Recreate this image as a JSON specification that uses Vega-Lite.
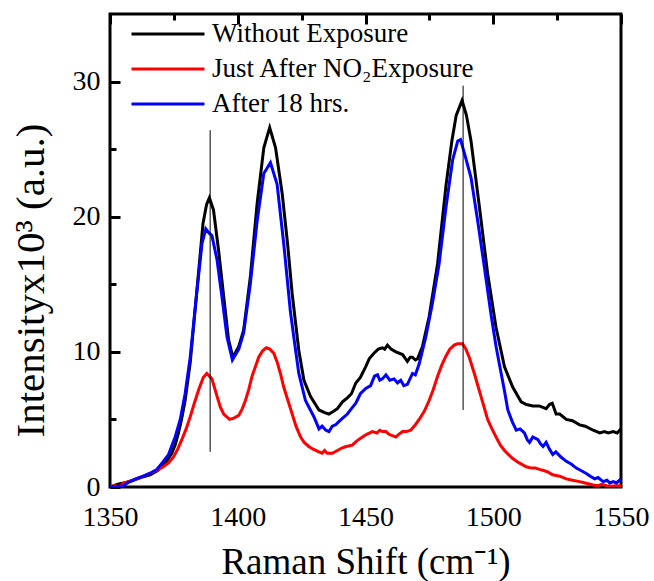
{
 "$schema": "https://vega.github.io/schema/vega-lite/v6.json",
 "width": 511,
 "height": 473,
 "autosize": {"type": "none"},
 "padding": {"left": 110, "top": 14, "right": 33, "bottom": 94},
 "background": "white",
 "config": {
  "view": {"stroke": "black", "strokeWidth": 3},
  "font": "Liberation Serif",
  "axis": {"domain": false, "ticks": false, "labelColor": "black", "labelFont": "Liberation Serif", "titleFont": "Liberation Serif", "titleColor": "black", "titleFontWeight": "normal", "labelFlush": false, "labelOverlap": false, "gridColor": "#000000", "gridOpacity": 1, "gridWidth": 3}
 },
 "datasets": {
  "spectra": [
   {"series":"Without Exposure","shift":1350,"intensity":0.0},
   {"series":"Without Exposure","shift":1353,"intensity":0.2},
   {"series":"Without Exposure","shift":1357.8,"intensity":0.4},
   {"series":"Without Exposure","shift":1362,"intensity":0.7},
   {"series":"Without Exposure","shift":1365.7,"intensity":0.9},
   {"series":"Without Exposure","shift":1368.5,"intensity":1.2},
   {"series":"Without Exposure","shift":1370.9,"intensity":1.6},
   {"series":"Without Exposure","shift":1372.5,"intensity":2.0},
   {"series":"Without Exposure","shift":1374.2,"intensity":2.5},
   {"series":"Without Exposure","shift":1375.5,"intensity":3.1},
   {"series":"Without Exposure","shift":1376.8,"intensity":4.0},
   {"series":"Without Exposure","shift":1378,"intensity":5.0},
   {"series":"Without Exposure","shift":1379.4,"intensity":6.4},
   {"series":"Without Exposure","shift":1381.4,"intensity":9.2},
   {"series":"Without Exposure","shift":1383.8,"intensity":14.1},
   {"series":"Without Exposure","shift":1386.4,"intensity":19.5},
   {"series":"Without Exposure","shift":1387.8,"intensity":20.9},
   {"series":"Without Exposure","shift":1388.9,"intensity":21.4},
   {"series":"Without Exposure","shift":1390.5,"intensity":20.5},
   {"series":"Without Exposure","shift":1392.5,"intensity":17.5},
   {"series":"Without Exposure","shift":1394.5,"intensity":14.1},
   {"series":"Without Exposure","shift":1396.4,"intensity":10.9},
   {"series":"Without Exposure","shift":1398.1,"intensity":9.6},
   {"series":"Without Exposure","shift":1400.4,"intensity":10.4},
   {"series":"Without Exposure","shift":1402.3,"intensity":11.6},
   {"series":"Without Exposure","shift":1404.9,"intensity":15.5},
   {"series":"Without Exposure","shift":1407.6,"intensity":21.0},
   {"series":"Without Exposure","shift":1410.2,"intensity":25.1},
   {"series":"Without Exposure","shift":1412.5,"intensity":26.6},
   {"series":"Without Exposure","shift":1414.8,"intensity":25.1},
   {"series":"Without Exposure","shift":1417.4,"intensity":21.7},
   {"series":"Without Exposure","shift":1419.5,"intensity":18.0},
   {"series":"Without Exposure","shift":1421.3,"intensity":14.3},
   {"series":"Without Exposure","shift":1423.9,"intensity":10.1},
   {"series":"Without Exposure","shift":1425.9,"intensity":7.9},
   {"series":"Without Exposure","shift":1428.5,"intensity":6.7},
   {"series":"Without Exposure","shift":1431.8,"intensity":5.7},
   {"series":"Without Exposure","shift":1434,"intensity":5.5},
   {"series":"Without Exposure","shift":1435.7,"intensity":5.4},
   {"series":"Without Exposure","shift":1437.5,"intensity":5.6},
   {"series":"Without Exposure","shift":1439,"intensity":5.8},
   {"series":"Without Exposure","shift":1441,"intensity":6.3},
   {"series":"Without Exposure","shift":1442.9,"intensity":6.6},
   {"series":"Without Exposure","shift":1444.5,"intensity":6.9},
   {"series":"Without Exposure","shift":1446.2,"intensity":7.7},
   {"series":"Without Exposure","shift":1448,"intensity":8.1},
   {"series":"Without Exposure","shift":1450.1,"intensity":8.9},
   {"series":"Without Exposure","shift":1451.5,"intensity":9.5},
   {"series":"Without Exposure","shift":1453.3,"intensity":9.9},
   {"series":"Without Exposure","shift":1455,"intensity":10.2},
   {"series":"Without Exposure","shift":1456.6,"intensity":10.3},
   {"series":"Without Exposure","shift":1457.5,"intensity":10.2},
   {"series":"Without Exposure","shift":1458.6,"intensity":10.5},
   {"series":"Without Exposure","shift":1460,"intensity":10.2},
   {"series":"Without Exposure","shift":1461.9,"intensity":10.0},
   {"series":"Without Exposure","shift":1464.5,"intensity":9.8},
   {"series":"Without Exposure","shift":1466.4,"intensity":9.3},
   {"series":"Without Exposure","shift":1467.5,"intensity":9.6},
   {"series":"Without Exposure","shift":1468.4,"intensity":9.6},
   {"series":"Without Exposure","shift":1469.5,"intensity":9.4},
   {"series":"Without Exposure","shift":1470.4,"intensity":9.5},
   {"series":"Without Exposure","shift":1472.3,"intensity":10.4},
   {"series":"Without Exposure","shift":1474.9,"intensity":12.6},
   {"series":"Without Exposure","shift":1478.2,"intensity":16.5},
   {"series":"Without Exposure","shift":1481.5,"intensity":22.3},
   {"series":"Without Exposure","shift":1483.8,"intensity":25.6},
   {"series":"Without Exposure","shift":1485.5,"intensity":27.5},
   {"series":"Without Exposure","shift":1487.8,"intensity":28.6},
   {"series":"Without Exposure","shift":1489.5,"intensity":27.5},
   {"series":"Without Exposure","shift":1491.3,"intensity":25.6},
   {"series":"Without Exposure","shift":1494.6,"intensity":20.7},
   {"series":"Without Exposure","shift":1497.8,"intensity":15.8},
   {"series":"Without Exposure","shift":1501.1,"intensity":11.8},
   {"series":"Without Exposure","shift":1504.4,"intensity":8.9},
   {"series":"Without Exposure","shift":1507.6,"intensity":7.4},
   {"series":"Without Exposure","shift":1510.9,"intensity":6.3},
   {"series":"Without Exposure","shift":1513,"intensity":6.1},
   {"series":"Without Exposure","shift":1515.5,"intensity":6.0},
   {"series":"Without Exposure","shift":1518,"intensity":6.0},
   {"series":"Without Exposure","shift":1520.7,"intensity":5.8},
   {"series":"Without Exposure","shift":1522,"intensity":6.1},
   {"series":"Without Exposure","shift":1523.1,"intensity":6.2},
   {"series":"Without Exposure","shift":1524.6,"intensity":5.4},
   {"series":"Without Exposure","shift":1526,"intensity":5.4},
   {"series":"Without Exposure","shift":1528.6,"intensity":5.0},
   {"series":"Without Exposure","shift":1531,"intensity":4.9},
   {"series":"Without Exposure","shift":1533.8,"intensity":4.6},
   {"series":"Without Exposure","shift":1536,"intensity":4.5},
   {"series":"Without Exposure","shift":1539.1,"intensity":4.2},
   {"series":"Without Exposure","shift":1541.7,"intensity":4.0},
   {"series":"Without Exposure","shift":1543.5,"intensity":4.1},
   {"series":"Without Exposure","shift":1545,"intensity":4.0},
   {"series":"Without Exposure","shift":1546.9,"intensity":4.1},
   {"series":"Without Exposure","shift":1548.5,"intensity":4.0},
   {"series":"Without Exposure","shift":1550,"intensity":4.3},

   {"series":"Just After NO₂Exposure","shift":1350,"intensity":0.0},
   {"series":"Just After NO₂Exposure","shift":1352,"intensity":0.1},
   {"series":"Just After NO₂Exposure","shift":1353.5,"intensity":0.0},
   {"series":"Just After NO₂Exposure","shift":1355.2,"intensity":0.27},
   {"series":"Just After NO₂Exposure","shift":1357,"intensity":0.4},
   {"series":"Just After NO₂Exposure","shift":1360.5,"intensity":0.6},
   {"series":"Just After NO₂Exposure","shift":1363,"intensity":0.8},
   {"series":"Just After NO₂Exposure","shift":1365.7,"intensity":1.0},
   {"series":"Just After NO₂Exposure","shift":1368,"intensity":1.2},
   {"series":"Just After NO₂Exposure","shift":1370.9,"intensity":1.5},
   {"series":"Just After NO₂Exposure","shift":1373,"intensity":1.8},
   {"series":"Just After NO₂Exposure","shift":1374.8,"intensity":2.2},
   {"series":"Just After NO₂Exposure","shift":1376.5,"intensity":2.8},
   {"series":"Just After NO₂Exposure","shift":1378.1,"intensity":3.5},
   {"series":"Just After NO₂Exposure","shift":1379.8,"intensity":4.3},
   {"series":"Just After NO₂Exposure","shift":1381.4,"intensity":5.2},
   {"series":"Just After NO₂Exposure","shift":1383,"intensity":6.2},
   {"series":"Just After NO₂Exposure","shift":1384.7,"intensity":7.2},
   {"series":"Just After NO₂Exposure","shift":1386.5,"intensity":8.1},
   {"series":"Just After NO₂Exposure","shift":1387.9,"intensity":8.4},
   {"series":"Just After NO₂Exposure","shift":1389.9,"intensity":8.0},
   {"series":"Just After NO₂Exposure","shift":1391.9,"intensity":6.7},
   {"series":"Just After NO₂Exposure","shift":1393.2,"intensity":5.9},
   {"series":"Just After NO₂Exposure","shift":1394.5,"intensity":5.4},
   {"series":"Just After NO₂Exposure","shift":1396.8,"intensity":5.0},
   {"series":"Just After NO₂Exposure","shift":1398.5,"intensity":5.1},
   {"series":"Just After NO₂Exposure","shift":1400.4,"intensity":5.3},
   {"series":"Just After NO₂Exposure","shift":1401.8,"intensity":5.8},
   {"series":"Just After NO₂Exposure","shift":1403,"intensity":6.4},
   {"series":"Just After NO₂Exposure","shift":1404.3,"intensity":7.2},
   {"series":"Just After NO₂Exposure","shift":1405.6,"intensity":8.2},
   {"series":"Just After NO₂Exposure","shift":1406.9,"intensity":8.9},
   {"series":"Just After NO₂Exposure","shift":1408.2,"intensity":9.6},
   {"series":"Just After NO₂Exposure","shift":1409.8,"intensity":10.1},
   {"series":"Just After NO₂Exposure","shift":1411.2,"intensity":10.3},
   {"series":"Just After NO₂Exposure","shift":1412.6,"intensity":10.2},
   {"series":"Just After NO₂Exposure","shift":1414.1,"intensity":9.9},
   {"series":"Just After NO₂Exposure","shift":1415.5,"intensity":9.2},
   {"series":"Just After NO₂Exposure","shift":1416.7,"intensity":8.4},
   {"series":"Just After NO₂Exposure","shift":1418,"intensity":7.4},
   {"series":"Just After NO₂Exposure","shift":1419.3,"intensity":6.6},
   {"series":"Just After NO₂Exposure","shift":1421.3,"intensity":5.4},
   {"series":"Just After NO₂Exposure","shift":1422.8,"intensity":4.5},
   {"series":"Just After NO₂Exposure","shift":1424.6,"intensity":3.7},
   {"series":"Just After NO₂Exposure","shift":1426,"intensity":3.3},
   {"series":"Just After NO₂Exposure","shift":1427.8,"intensity":3.0},
   {"series":"Just After NO₂Exposure","shift":1429.5,"intensity":2.8},
   {"series":"Just After NO₂Exposure","shift":1431.8,"intensity":2.6},
   {"series":"Just After NO₂Exposure","shift":1433,"intensity":2.5},
   {"series":"Just After NO₂Exposure","shift":1434,"intensity":2.7},
   {"series":"Just After NO₂Exposure","shift":1435,"intensity":2.5},
   {"series":"Just After NO₂Exposure","shift":1437,"intensity":2.5},
   {"series":"Just After NO₂Exposure","shift":1439,"intensity":2.7},
   {"series":"Just After NO₂Exposure","shift":1440.9,"intensity":2.9},
   {"series":"Just After NO₂Exposure","shift":1442.5,"intensity":3.0},
   {"series":"Just After NO₂Exposure","shift":1444.8,"intensity":3.1},
   {"series":"Just After NO₂Exposure","shift":1446.5,"intensity":3.4},
   {"series":"Just After NO₂Exposure","shift":1448.8,"intensity":3.7},
   {"series":"Just After NO₂Exposure","shift":1450.5,"intensity":3.9},
   {"series":"Just After NO₂Exposure","shift":1452.7,"intensity":4.1},
   {"series":"Just After NO₂Exposure","shift":1454.5,"intensity":4.0},
   {"series":"Just After NO₂Exposure","shift":1455.6,"intensity":4.2},
   {"series":"Just After NO₂Exposure","shift":1456.6,"intensity":4.1},
   {"series":"Just After NO₂Exposure","shift":1458,"intensity":4.1},
   {"series":"Just After NO₂Exposure","shift":1459.2,"intensity":3.9},
   {"series":"Just After NO₂Exposure","shift":1460.5,"intensity":3.8},
   {"series":"Just After NO₂Exposure","shift":1461.9,"intensity":3.7},
   {"series":"Just After NO₂Exposure","shift":1463,"intensity":3.9},
   {"series":"Just After NO₂Exposure","shift":1464.5,"intensity":4.1},
   {"series":"Just After NO₂Exposure","shift":1466,"intensity":4.1},
   {"series":"Just After NO₂Exposure","shift":1467.7,"intensity":4.2},
   {"series":"Just After NO₂Exposure","shift":1469.5,"intensity":4.6},
   {"series":"Just After NO₂Exposure","shift":1471,"intensity":5.0},
   {"series":"Just After NO₂Exposure","shift":1473,"intensity":5.6},
   {"series":"Just After NO₂Exposure","shift":1474.9,"intensity":6.4},
   {"series":"Just After NO₂Exposure","shift":1476.5,"intensity":7.2},
   {"series":"Just After NO₂Exposure","shift":1478.2,"intensity":8.2},
   {"series":"Just After NO₂Exposure","shift":1479.8,"intensity":9.0},
   {"series":"Just After NO₂Exposure","shift":1481.5,"intensity":9.7},
   {"series":"Just After NO₂Exposure","shift":1483,"intensity":10.2},
   {"series":"Just After NO₂Exposure","shift":1484.7,"intensity":10.5},
   {"series":"Just After NO₂Exposure","shift":1486,"intensity":10.6},
   {"series":"Just After NO₂Exposure","shift":1488,"intensity":10.6},
   {"series":"Just After NO₂Exposure","shift":1489.3,"intensity":10.2},
   {"series":"Just After NO₂Exposure","shift":1490.6,"intensity":9.6},
   {"series":"Just After NO₂Exposure","shift":1492.6,"intensity":8.4},
   {"series":"Just After NO₂Exposure","shift":1495.2,"intensity":6.7},
   {"series":"Just After NO₂Exposure","shift":1497.8,"intensity":5.0},
   {"series":"Just After NO₂Exposure","shift":1499.5,"intensity":4.3},
   {"series":"Just After NO₂Exposure","shift":1501.1,"intensity":3.7},
   {"series":"Just After NO₂Exposure","shift":1502.8,"intensity":3.1},
   {"series":"Just After NO₂Exposure","shift":1504.4,"intensity":2.7},
   {"series":"Just After NO₂Exposure","shift":1506,"intensity":2.4},
   {"series":"Just After NO₂Exposure","shift":1507.6,"intensity":2.1},
   {"series":"Just After NO₂Exposure","shift":1510,"intensity":1.8},
   {"series":"Just After NO₂Exposure","shift":1512.9,"intensity":1.5},
   {"series":"Just After NO₂Exposure","shift":1515,"intensity":1.4},
   {"series":"Just After NO₂Exposure","shift":1516.5,"intensity":1.4},
   {"series":"Just After NO₂Exposure","shift":1518.1,"intensity":1.3},
   {"series":"Just After NO₂Exposure","shift":1520,"intensity":1.2},
   {"series":"Just After NO₂Exposure","shift":1521.5,"intensity":1.1},
   {"series":"Just After NO₂Exposure","shift":1523.3,"intensity":0.9},
   {"series":"Just After NO₂Exposure","shift":1526,"intensity":0.8},
   {"series":"Just After NO₂Exposure","shift":1528.6,"intensity":0.6},
   {"series":"Just After NO₂Exposure","shift":1531,"intensity":0.5},
   {"series":"Just After NO₂Exposure","shift":1533.8,"intensity":0.4},
   {"series":"Just After NO₂Exposure","shift":1536,"intensity":0.3},
   {"series":"Just After NO₂Exposure","shift":1539.1,"intensity":0.15},
   {"series":"Just After NO₂Exposure","shift":1541,"intensity":0.1},
   {"series":"Just After NO₂Exposure","shift":1542.5,"intensity":0.2},
   {"series":"Just After NO₂Exposure","shift":1544.4,"intensity":0.1},
   {"series":"Just After NO₂Exposure","shift":1546,"intensity":0.05},
   {"series":"Just After NO₂Exposure","shift":1548,"intensity":0.1},
   {"series":"Just After NO₂Exposure","shift":1550,"intensity":0.1},

   {"series":"After 18 hrs.","shift":1350,"intensity":0.05},
   {"series":"After 18 hrs.","shift":1352,"intensity":0.0},
   {"series":"After 18 hrs.","shift":1355.2,"intensity":0.1},
   {"series":"After 18 hrs.","shift":1357.8,"intensity":0.4},
   {"series":"After 18 hrs.","shift":1360,"intensity":0.6},
   {"series":"After 18 hrs.","shift":1363.1,"intensity":0.8},
   {"series":"After 18 hrs.","shift":1365.5,"intensity":1.0},
   {"series":"After 18 hrs.","shift":1368.3,"intensity":1.3},
   {"series":"After 18 hrs.","shift":1370.5,"intensity":1.8},
   {"series":"After 18 hrs.","shift":1372.9,"intensity":2.4},
   {"series":"After 18 hrs.","shift":1375.5,"intensity":3.7},
   {"series":"After 18 hrs.","shift":1377.5,"intensity":5.0},
   {"series":"After 18 hrs.","shift":1379.4,"intensity":6.9},
   {"series":"After 18 hrs.","shift":1381.4,"intensity":9.6},
   {"series":"After 18 hrs.","shift":1383.8,"intensity":14.1},
   {"series":"After 18 hrs.","shift":1386,"intensity":18.0},
   {"series":"After 18 hrs.","shift":1387.5,"intensity":19.1},
   {"series":"After 18 hrs.","shift":1388.7,"intensity":18.8},
   {"series":"After 18 hrs.","shift":1389.9,"intensity":18.6},
   {"series":"After 18 hrs.","shift":1391.9,"intensity":16.8},
   {"series":"After 18 hrs.","shift":1393.8,"intensity":14.1},
   {"series":"After 18 hrs.","shift":1395.8,"intensity":11.1},
   {"series":"After 18 hrs.","shift":1397.9,"intensity":9.4},
   {"series":"After 18 hrs.","shift":1400.4,"intensity":10.2},
   {"series":"After 18 hrs.","shift":1402.3,"intensity":11.4},
   {"series":"After 18 hrs.","shift":1404.9,"intensity":15.0},
   {"series":"After 18 hrs.","shift":1407.6,"intensity":19.7},
   {"series":"After 18 hrs.","shift":1410.2,"intensity":23.2},
   {"series":"After 18 hrs.","shift":1412.8,"intensity":24.0},
   {"series":"After 18 hrs.","shift":1415.4,"intensity":22.4},
   {"series":"After 18 hrs.","shift":1418,"intensity":18.0},
   {"series":"After 18 hrs.","shift":1420.6,"intensity":13.0},
   {"series":"After 18 hrs.","shift":1422,"intensity":11.0},
   {"series":"After 18 hrs.","shift":1423.9,"intensity":8.4},
   {"series":"After 18 hrs.","shift":1426.5,"intensity":6.4},
   {"series":"After 18 hrs.","shift":1429.8,"intensity":5.2},
   {"series":"After 18 hrs.","shift":1431.8,"intensity":4.3},
   {"series":"After 18 hrs.","shift":1433,"intensity":4.5},
   {"series":"After 18 hrs.","shift":1434.5,"intensity":4.2},
   {"series":"After 18 hrs.","shift":1435.7,"intensity":4.1},
   {"series":"After 18 hrs.","shift":1437,"intensity":4.5},
   {"series":"After 18 hrs.","shift":1438.3,"intensity":4.6},
   {"series":"After 18 hrs.","shift":1440.5,"intensity":5.0},
   {"series":"After 18 hrs.","shift":1442.9,"intensity":5.4},
   {"series":"After 18 hrs.","shift":1444.5,"intensity":5.8},
   {"series":"After 18 hrs.","shift":1446.2,"intensity":6.2},
   {"series":"After 18 hrs.","shift":1448,"intensity":6.9},
   {"series":"After 18 hrs.","shift":1450.1,"intensity":7.3},
   {"series":"After 18 hrs.","shift":1452,"intensity":7.5},
   {"series":"After 18 hrs.","shift":1453.5,"intensity":8.2},
   {"series":"After 18 hrs.","shift":1454.7,"intensity":8.3},
   {"series":"After 18 hrs.","shift":1455.6,"intensity":7.9},
   {"series":"After 18 hrs.","shift":1456.6,"intensity":8.0},
   {"series":"After 18 hrs.","shift":1458,"intensity":8.3},
   {"series":"After 18 hrs.","shift":1459.5,"intensity":7.9},
   {"series":"After 18 hrs.","shift":1461.2,"intensity":8.0},
   {"series":"After 18 hrs.","shift":1462.5,"intensity":7.7},
   {"series":"After 18 hrs.","shift":1463.8,"intensity":7.9},
   {"series":"After 18 hrs.","shift":1465,"intensity":7.5},
   {"series":"After 18 hrs.","shift":1466.4,"intensity":7.6},
   {"series":"After 18 hrs.","shift":1468.4,"intensity":8.4},
   {"series":"After 18 hrs.","shift":1469.5,"intensity":8.3},
   {"series":"After 18 hrs.","shift":1471,"intensity":9.1},
   {"series":"After 18 hrs.","shift":1473.6,"intensity":11.1},
   {"series":"After 18 hrs.","shift":1476.2,"intensity":13.6},
   {"series":"After 18 hrs.","shift":1478.8,"intensity":16.5},
   {"series":"After 18 hrs.","shift":1481.5,"intensity":20.7},
   {"series":"After 18 hrs.","shift":1484.1,"intensity":24.2},
   {"series":"After 18 hrs.","shift":1486.1,"intensity":25.6},
   {"series":"After 18 hrs.","shift":1487.2,"intensity":25.7},
   {"series":"After 18 hrs.","shift":1488.7,"intensity":24.7},
   {"series":"After 18 hrs.","shift":1491.3,"intensity":22.9},
   {"series":"After 18 hrs.","shift":1493.9,"intensity":19.7},
   {"series":"After 18 hrs.","shift":1496.5,"intensity":16.3},
   {"series":"After 18 hrs.","shift":1499.1,"intensity":12.8},
   {"series":"After 18 hrs.","shift":1501.1,"intensity":10.4},
   {"series":"After 18 hrs.","shift":1503.1,"intensity":8.4},
   {"series":"After 18 hrs.","shift":1504.5,"intensity":7.0},
   {"series":"After 18 hrs.","shift":1505.7,"intensity":5.7},
   {"series":"After 18 hrs.","shift":1507.5,"intensity":4.8},
   {"series":"After 18 hrs.","shift":1509,"intensity":4.2},
   {"series":"After 18 hrs.","shift":1510.5,"intensity":4.3},
   {"series":"After 18 hrs.","shift":1512.2,"intensity":4.0},
   {"series":"After 18 hrs.","shift":1513.3,"intensity":3.5},
   {"series":"After 18 hrs.","shift":1514.2,"intensity":3.3},
   {"series":"After 18 hrs.","shift":1515.5,"intensity":3.7},
   {"series":"After 18 hrs.","shift":1517.5,"intensity":3.5},
   {"series":"After 18 hrs.","shift":1518.5,"intensity":3.2},
   {"series":"After 18 hrs.","shift":1519.5,"intensity":3.0},
   {"series":"After 18 hrs.","shift":1520.7,"intensity":3.3},
   {"series":"After 18 hrs.","shift":1522,"intensity":2.8},
   {"series":"After 18 hrs.","shift":1523.3,"intensity":2.4},
   {"series":"After 18 hrs.","shift":1524.5,"intensity":2.6},
   {"series":"After 18 hrs.","shift":1526.6,"intensity":2.2},
   {"series":"After 18 hrs.","shift":1528.6,"intensity":1.9},
   {"series":"After 18 hrs.","shift":1530.5,"intensity":1.7},
   {"series":"After 18 hrs.","shift":1532.5,"intensity":1.4},
   {"series":"After 18 hrs.","shift":1534.5,"intensity":1.2},
   {"series":"After 18 hrs.","shift":1536.4,"intensity":1.0},
   {"series":"After 18 hrs.","shift":1538,"intensity":0.8},
   {"series":"After 18 hrs.","shift":1539.7,"intensity":0.6},
   {"series":"After 18 hrs.","shift":1541,"intensity":0.7},
   {"series":"After 18 hrs.","shift":1543,"intensity":0.4},
   {"series":"After 18 hrs.","shift":1544.5,"intensity":0.5},
   {"series":"After 18 hrs.","shift":1545.6,"intensity":0.3},
   {"series":"After 18 hrs.","shift":1547,"intensity":0.4},
   {"series":"After 18 hrs.","shift":1548.2,"intensity":0.3},
   {"series":"After 18 hrs.","shift":1550,"intensity":0.6}
  ],
  "refs": [
   {"shift": 1389.2, "lo": 2.6, "hi": 26.4},
   {"shift": 1488.2, "lo": 5.7, "hi": 29.7}
  ]
 },
 "layer": [
  {
   "data": {"name": "spectra"},
   "mark": {"type": "line", "strokeWidth": 3, "clip": true},
   "encoding": {
    "x": {"field": "shift", "type": "quantitative",
     "scale": {"domain": [1350, 1550], "nice": false, "zero": false},
     "axis": {"orient": "bottom", "values": [1350, 1400, 1450, 1500, 1550], "format": "d", "grid": true, "gridDash": [10, 1000], "labelFontSize": 28, "labelPadding": 16, "title": "Raman Shift (cm⁻¹)", "titleFontSize": 37, "titlePadding": 13}},
    "y": {"field": "intensity", "type": "quantitative",
     "scale": {"domain": [0, 35], "nice": false},
     "axis": {"orient": "left", "values": [0, 10, 20, 30], "format": "d", "grid": true, "gridDash": [10, 1000], "labelFontSize": 28, "labelPadding": 10, "title": "Intensityx10³ (a.u.)", "titleFontSize": 41, "titlePadding": 20, "titleY": 266}},
    "color": {"field": "series", "type": "nominal",
     "scale": {"domain": ["Without Exposure", "Just After NO₂Exposure", "After 18 hrs."], "range": ["#000000", "#ff0000", "#0000ff"]},
     "legend": {"orient": "none", "legendX": 44, "legendY": 6, "title": null, "padding": 0, "symbolType": "M-3,0H3", "symbolSize": 592, "symbolStrokeWidth": 3, "labelFont": "Liberation Serif", "labelFontSize": 27, "labelColor": "black", "labelOffset": 30, "rowPadding": 8, "labelLimit": 400}}
   }
  },
  {
   "data": {"name": "refs"},
   "mark": {"type": "rule", "color": "black", "strokeWidth": 1},
   "encoding": {
    "x": {"field": "shift", "type": "quantitative",
     "axis": {"orient": "bottom", "values": [1375, 1425, 1475, 1525], "labels": false, "title": null, "grid": true, "gridDash": [6, 1000]}},
    "y": {"field": "lo", "type": "quantitative",
     "axis": {"orient": "left", "values": [5, 15, 25], "labels": false, "title": null, "grid": true, "gridDash": [6, 1000]}},
    "y2": {"field": "hi"}
   }
  }
 ],
 "resolve": {"axis": {"x": "independent", "y": "independent"}}
}
